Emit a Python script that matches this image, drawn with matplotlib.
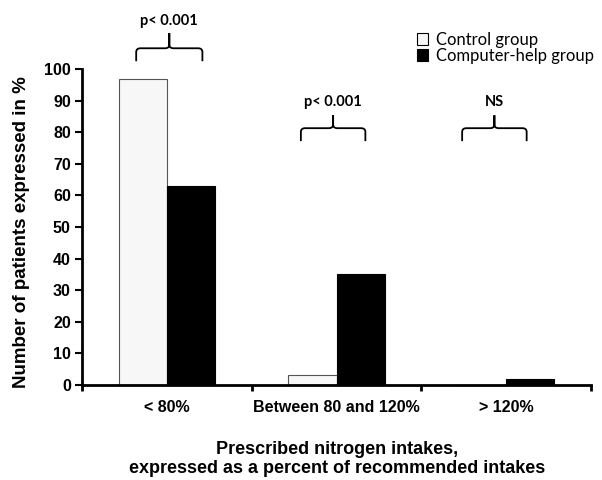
import matplotlib
matplotlib.use("Agg")
import matplotlib.pyplot as plt
from matplotlib.path import Path
from matplotlib.patches import PathPatch, Patch

categories = ["< 80%", "Between 80 and 120%", "> 120%"]
control = [97, 3, 0]
computer = [63, 35, 2]
series_names = ["Control group", "Computer-help group"]
annotations = ["p< 0.001", "p< 0.001", "NS"]
yticks = [0, 10, 20, 30, 40, 50, 60, 70, 80, 90, 100]

plt.rcParams['font.family'] = ['Liberation Sans', 'DejaVu Sans']

fig = plt.figure(figsize=(6.02, 4.8), dpi=100)
ax = fig.add_axes([0.136, 0.198, 0.846, 0.658])

w = 0.284
xs = list(range(len(categories)))
ax.bar([x - w / 2 for x in xs], control, width=w, color="#f7f7f7",
       edgecolor="#555555", linewidth=0.8, zorder=2)
ax.bar([x + w / 2 for x in xs], computer, width=w, color="black",
       edgecolor="black", linewidth=0.8, zorder=2)

ax.set_xlim(-0.5, 2.5)
ax.set_ylim(0, 100)
ax.set_yticks(yticks)
ax.set_yticklabels([str(t) for t in yticks], fontsize=11.5, fontweight="bold")
ax.set_xticks([-0.5, 0.5, 1.5, 2.5])
ax.set_xticklabels([])
ax.set_xticks(xs, minor=True)
ax.set_xticklabels(categories, minor=True, fontsize=11.5, fontweight="bold")
ax.tick_params(axis="x", which="minor", length=0, pad=11)
ax.tick_params(axis="x", which="major", direction="out", length=4, width=2)
ax.tick_params(axis="y", direction="out", length=5, width=1.5, pad=3)

for s in ["top", "right"]:
    ax.spines[s].set_visible(False)
for s in ["left", "bottom"]:
    ax.spines[s].set_linewidth(2)

fig.text(22 / 602, 1 - 232 / 480, "Number of patients expressed in %",
         rotation=90, ha="center", va="center", fontsize=13.5, fontweight="bold")
fig.text(337 / 602, 1 - 459 / 480,
         "Prescribed nitrogen intakes,\nexpressed as a percent of recommended intakes",
         ha="center", va="center", fontsize=13, fontweight="bold", linespacing=1.22)


def brace(x0, x1, yb, yh, yt, rx=0.025, ry=1.2):
    xc = (x0 + x1) / 2
    verts = [
        (x0, yb), (x0, yh - ry),
        (x0, yh), (x0 + rx, yh),
        (xc - rx, yh),
        (xc, yh), (xc, yh + ry),
        (xc, yt),
        (xc, yh + ry),
        (xc, yh), (xc + rx, yh),
        (x1 - rx, yh),
        (x1, yh), (x1, yh - ry),
        (x1, yb),
    ]
    codes = [Path.MOVETO, Path.LINETO,
             Path.CURVE3, Path.CURVE3,
             Path.LINETO,
             Path.CURVE3, Path.CURVE3,
             Path.LINETO,
             Path.LINETO,
             Path.CURVE3, Path.CURVE3,
             Path.LINETO,
             Path.CURVE3, Path.CURVE3,
             Path.LINETO]
    p = PathPatch(Path(verts, codes), facecolor="none", edgecolor="black",
                  linewidth=1.3, clip_on=False)
    ax.add_patch(p)


brace_specs = [(-0.18, 0.21, 102.5, 106.6, 111.4, 115.3),
               (0.79, 1.17, 77.2, 81.3, 85.4, 89.6),
               (1.74, 2.12, 77.2, 81.3, 85.4, 89.6)]
for (x0, x1, yb, yh, yt, ytext), label in zip(brace_specs, annotations):
    brace(x0, x1, yb, yh, yt)
    ax.text((x0 + x1) / 2, ytext, label, ha="center", va="center",
            fontsize=10.5, fontweight="bold", family=["Lato", "DejaVu Sans"],
            clip_on=False)

handles = [Patch(facecolor="#f7f7f7", edgecolor="black", linewidth=0.8),
           Patch(facecolor="black", edgecolor="black", linewidth=0.8)]
fig.legend(handles, series_names, loc="upper left",
           bbox_to_anchor=(0.692, 0.934), frameon=False,
           prop={"family": ["Lato", "DejaVu Sans"], "size": 12},
           handlelength=0.7, handleheight=0.7, handletextpad=0.45,
           labelspacing=0.0, borderpad=0, borderaxespad=0)

fig.savefig("out.png", dpi=100)
